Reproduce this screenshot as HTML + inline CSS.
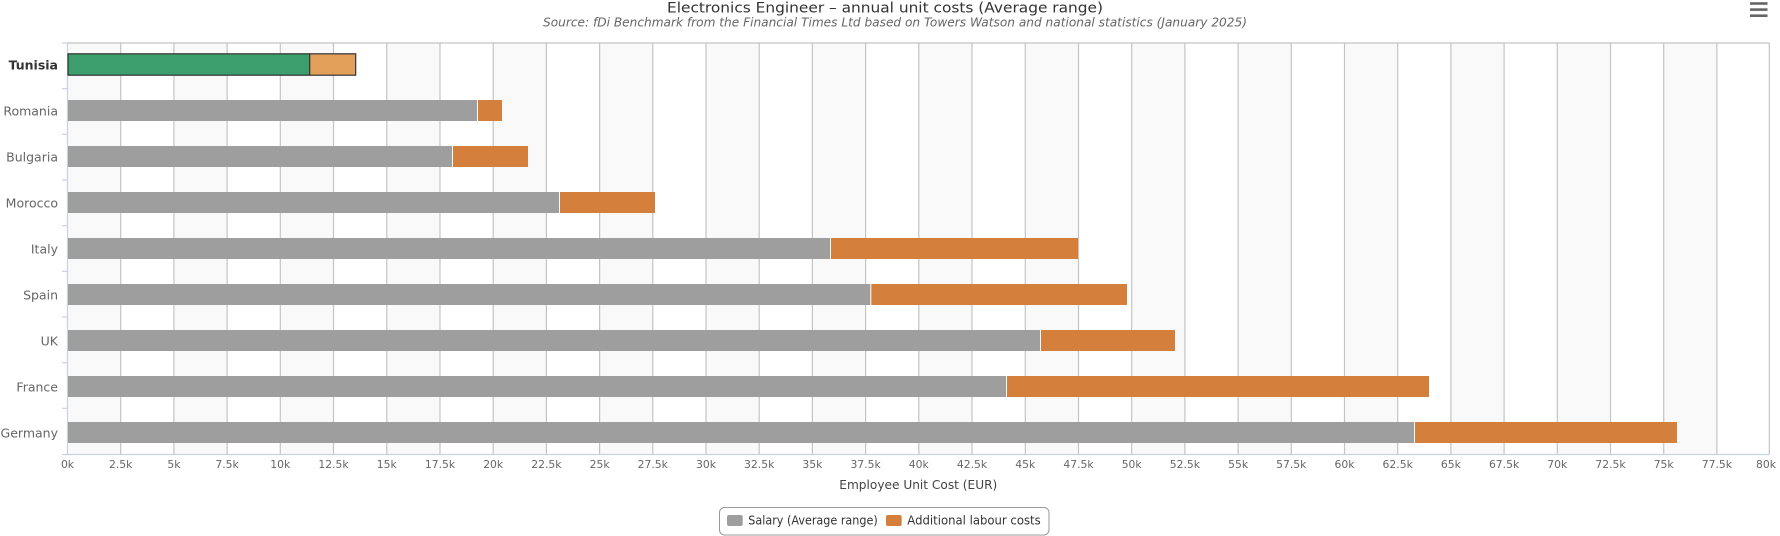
<!DOCTYPE html>
<html><head><meta charset="utf-8"><style>
html,body{margin:0;padding:0;background:#fff;}
svg{display:block;font-family:"DejaVu Sans","Liberation Sans",sans-serif;}
</style></head><body>
<svg width="1780" height="536" viewBox="0 0 1780 536" xmlns="http://www.w3.org/2000/svg">
<rect x="0" y="0" width="1780" height="536" fill="#fff"/>
<!-- title -->
<text x="667" y="12.5" font-size="14" fill="#333" textLength="436" lengthAdjust="spacingAndGlyphs">Electronics Engineer – annual unit costs (Average range)</text>
<text x="543" y="26.7" font-size="12" font-style="italic" fill="#666" textLength="704" lengthAdjust="spacingAndGlyphs">Source: fDi Benchmark from the Financial Times Ltd based on Towers Watson and national statistics (January 2025)</text>
<!-- hamburger -->
<rect x="1750" y="2.2" width="17.5" height="2.6" fill="#666"/>
<rect x="1750" y="8.3" width="17.5" height="2.6" fill="#666"/>
<rect x="1750" y="14.4" width="17.5" height="2.6" fill="#666"/>
<!-- bands -->
<g fill="#f9f9f9">
<rect x="67.5" y="43" width="53.2" height="411"/>
<rect x="173.9" y="43" width="53.2" height="411"/>
<rect x="280.3" y="43" width="53.2" height="411"/>
<rect x="386.8" y="43" width="53.2" height="411"/>
<rect x="493.2" y="43" width="53.2" height="411"/>
<rect x="599.6" y="43" width="53.2" height="411"/>
<rect x="706.0" y="43" width="53.2" height="411"/>
<rect x="812.4" y="43" width="53.2" height="411"/>
<rect x="918.8" y="43" width="53.2" height="411"/>
<rect x="1025.3" y="43" width="53.2" height="411"/>
<rect x="1131.7" y="43" width="53.2" height="411"/>
<rect x="1238.1" y="43" width="53.2" height="411"/>
<rect x="1344.5" y="43" width="53.2" height="411"/>
<rect x="1450.9" y="43" width="53.2" height="411"/>
<rect x="1557.3" y="43" width="53.2" height="411"/>
<rect x="1663.7" y="43" width="53.2" height="411"/>
</g>
<!-- gridlines -->
<g stroke="#c4c4c4" stroke-width="1.2">
<line x1="67" y1="43" x2="1769.5" y2="43"/>
<line x1="120.7" y1="43" x2="120.7" y2="454"/>
<line x1="173.9" y1="43" x2="173.9" y2="454"/>
<line x1="227.1" y1="43" x2="227.1" y2="454"/>
<line x1="280.3" y1="43" x2="280.3" y2="454"/>
<line x1="333.5" y1="43" x2="333.5" y2="454"/>
<line x1="386.8" y1="43" x2="386.8" y2="454"/>
<line x1="440.0" y1="43" x2="440.0" y2="454"/>
<line x1="493.2" y1="43" x2="493.2" y2="454"/>
<line x1="546.4" y1="43" x2="546.4" y2="454"/>
<line x1="599.6" y1="43" x2="599.6" y2="454"/>
<line x1="652.8" y1="43" x2="652.8" y2="454"/>
<line x1="706.0" y1="43" x2="706.0" y2="454"/>
<line x1="759.2" y1="43" x2="759.2" y2="454"/>
<line x1="812.4" y1="43" x2="812.4" y2="454"/>
<line x1="865.6" y1="43" x2="865.6" y2="454"/>
<line x1="918.8" y1="43" x2="918.8" y2="454"/>
<line x1="972.0" y1="43" x2="972.0" y2="454"/>
<line x1="1025.3" y1="43" x2="1025.3" y2="454"/>
<line x1="1078.5" y1="43" x2="1078.5" y2="454"/>
<line x1="1131.7" y1="43" x2="1131.7" y2="454"/>
<line x1="1184.9" y1="43" x2="1184.9" y2="454"/>
<line x1="1238.1" y1="43" x2="1238.1" y2="454"/>
<line x1="1291.3" y1="43" x2="1291.3" y2="454"/>
<line x1="1344.5" y1="43" x2="1344.5" y2="454"/>
<line x1="1397.7" y1="43" x2="1397.7" y2="454"/>
<line x1="1450.9" y1="43" x2="1450.9" y2="454"/>
<line x1="1504.1" y1="43" x2="1504.1" y2="454"/>
<line x1="1557.3" y1="43" x2="1557.3" y2="454"/>
<line x1="1610.5" y1="43" x2="1610.5" y2="454"/>
<line x1="1663.7" y1="43" x2="1663.7" y2="454"/>
<line x1="1716.9" y1="43" x2="1716.9" y2="454"/>
<line x1="1769.3" y1="43" x2="1769.3" y2="454"/>
</g>
<!-- axes -->
<g stroke="#c8d2e4" stroke-width="1.2">
<line x1="67.5" y1="43" x2="67.5" y2="454.5"/>
<line x1="67" y1="454.5" x2="1769.5" y2="454.5"/>
<line x1="62" y1="43" x2="67.5" y2="43"/>
<line x1="62" y1="88.7" x2="67.5" y2="88.7"/>
<line x1="62" y1="134.3" x2="67.5" y2="134.3"/>
<line x1="62" y1="180" x2="67.5" y2="180"/>
<line x1="62" y1="225.7" x2="67.5" y2="225.7"/>
<line x1="62" y1="271.3" x2="67.5" y2="271.3"/>
<line x1="62" y1="317" x2="67.5" y2="317"/>
<line x1="62" y1="362.7" x2="67.5" y2="362.7"/>
<line x1="62" y1="408.3" x2="67.5" y2="408.3"/>
<line x1="62" y1="454.5" x2="67.5" y2="454.5"/>
</g>
<!-- bars -->
<!-- Tunisia -->
<rect x="68" y="54" width="241.7" height="21" fill="#3b9e6c"/>
<rect x="309.7" y="54" width="46" height="21" fill="#e2a05b"/>
<rect x="68" y="53.8" width="287.7" height="21.4" fill="none" stroke="#333" stroke-width="1.2"/>
<line x1="309.7" y1="54" x2="309.7" y2="75" stroke="#333" stroke-width="1.2"/>
<!-- others -->
<g>
<rect x="68" y="100" width="409" height="21" fill="#9e9e9e"/><rect x="478" y="100" width="24" height="21" fill="#d4803c"/>
<rect x="68" y="146" width="384" height="21" fill="#9e9e9e"/><rect x="453" y="146" width="75" height="21" fill="#d4803c"/>
<rect x="68" y="192" width="491" height="21" fill="#9e9e9e"/><rect x="560" y="192" width="95" height="21" fill="#d4803c"/>
<rect x="68" y="238" width="762" height="21" fill="#9e9e9e"/><rect x="831" y="238" width="247" height="21" fill="#d4803c"/>
<rect x="68" y="284" width="802.3" height="21" fill="#9e9e9e"/><rect x="871.3" y="284" width="255.7" height="21" fill="#d4803c"/>
<rect x="68" y="330" width="972" height="21" fill="#9e9e9e"/><rect x="1041" y="330" width="134" height="21" fill="#d4803c"/>
<rect x="68" y="376" width="938" height="21" fill="#9e9e9e"/><rect x="1007" y="376" width="422" height="21" fill="#d4803c"/>
<rect x="68" y="422" width="1346" height="21" fill="#9e9e9e"/><rect x="1415" y="422" width="262" height="21" fill="#d4803c"/>
</g>
<!-- y labels -->
<g font-size="12.5" fill="#666" text-anchor="end">
<text x="58" y="69.5" font-weight="bold" fill="#333">Tunisia</text>
<text x="58" y="115.5">Romania</text>
<text x="58" y="161.5">Bulgaria</text>
<text x="58" y="207.5">Morocco</text>
<text x="58" y="253.5">Italy</text>
<text x="58" y="299.5">Spain</text>
<text x="58" y="345.5">UK</text>
<text x="58" y="391.5">France</text>
<text x="58" y="437.5">Germany</text>
</g>
<!-- x labels -->
<g font-size="10.8" fill="#666" text-anchor="middle">
<text x="67.5" y="468">0k</text>
<text x="120.7" y="468">2.5k</text>
<text x="173.9" y="468">5k</text>
<text x="227.1" y="468">7.5k</text>
<text x="280.3" y="468">10k</text>
<text x="333.5" y="468">12.5k</text>
<text x="386.8" y="468">15k</text>
<text x="440.0" y="468">17.5k</text>
<text x="493.2" y="468">20k</text>
<text x="546.4" y="468">22.5k</text>
<text x="599.6" y="468">25k</text>
<text x="652.8" y="468">27.5k</text>
<text x="706.0" y="468">30k</text>
<text x="759.2" y="468">32.5k</text>
<text x="812.4" y="468">35k</text>
<text x="865.6" y="468">37.5k</text>
<text x="918.8" y="468">40k</text>
<text x="972.0" y="468">42.5k</text>
<text x="1025.3" y="468">45k</text>
<text x="1078.5" y="468">47.5k</text>
<text x="1131.7" y="468">50k</text>
<text x="1184.9" y="468">52.5k</text>
<text x="1238.1" y="468">55k</text>
<text x="1291.3" y="468">57.5k</text>
<text x="1344.5" y="468">60k</text>
<text x="1397.7" y="468">62.5k</text>
<text x="1450.9" y="468">65k</text>
<text x="1504.1" y="468">67.5k</text>
<text x="1557.3" y="468">70k</text>
<text x="1610.5" y="468">72.5k</text>
<text x="1663.7" y="468">75k</text>
<text x="1716.9" y="468">77.5k</text>
<text x="1766" y="468">80k</text>
</g>
<!-- axis title -->
<text x="839.3" y="489" font-size="12" fill="#444" textLength="158" lengthAdjust="spacingAndGlyphs">Employee Unit Cost (EUR)</text>
<!-- legend -->
<rect x="719.5" y="507.5" width="329.5" height="27.5" rx="5" ry="5" fill="#fff" stroke="#999" stroke-width="1"/>
<rect x="727" y="515" width="15.7" height="11" rx="2" fill="#9e9e9e"/>
<text x="748.3" y="524.5" font-size="12" fill="#333" textLength="129.4" lengthAdjust="spacingAndGlyphs">Salary (Average range)</text>
<rect x="886" y="515" width="15.7" height="11" rx="2" fill="#d4803c"/>
<text x="907.3" y="524.5" font-size="12" fill="#333" textLength="133.4" lengthAdjust="spacingAndGlyphs">Additional labour costs</text>
</svg>
</body></html>
